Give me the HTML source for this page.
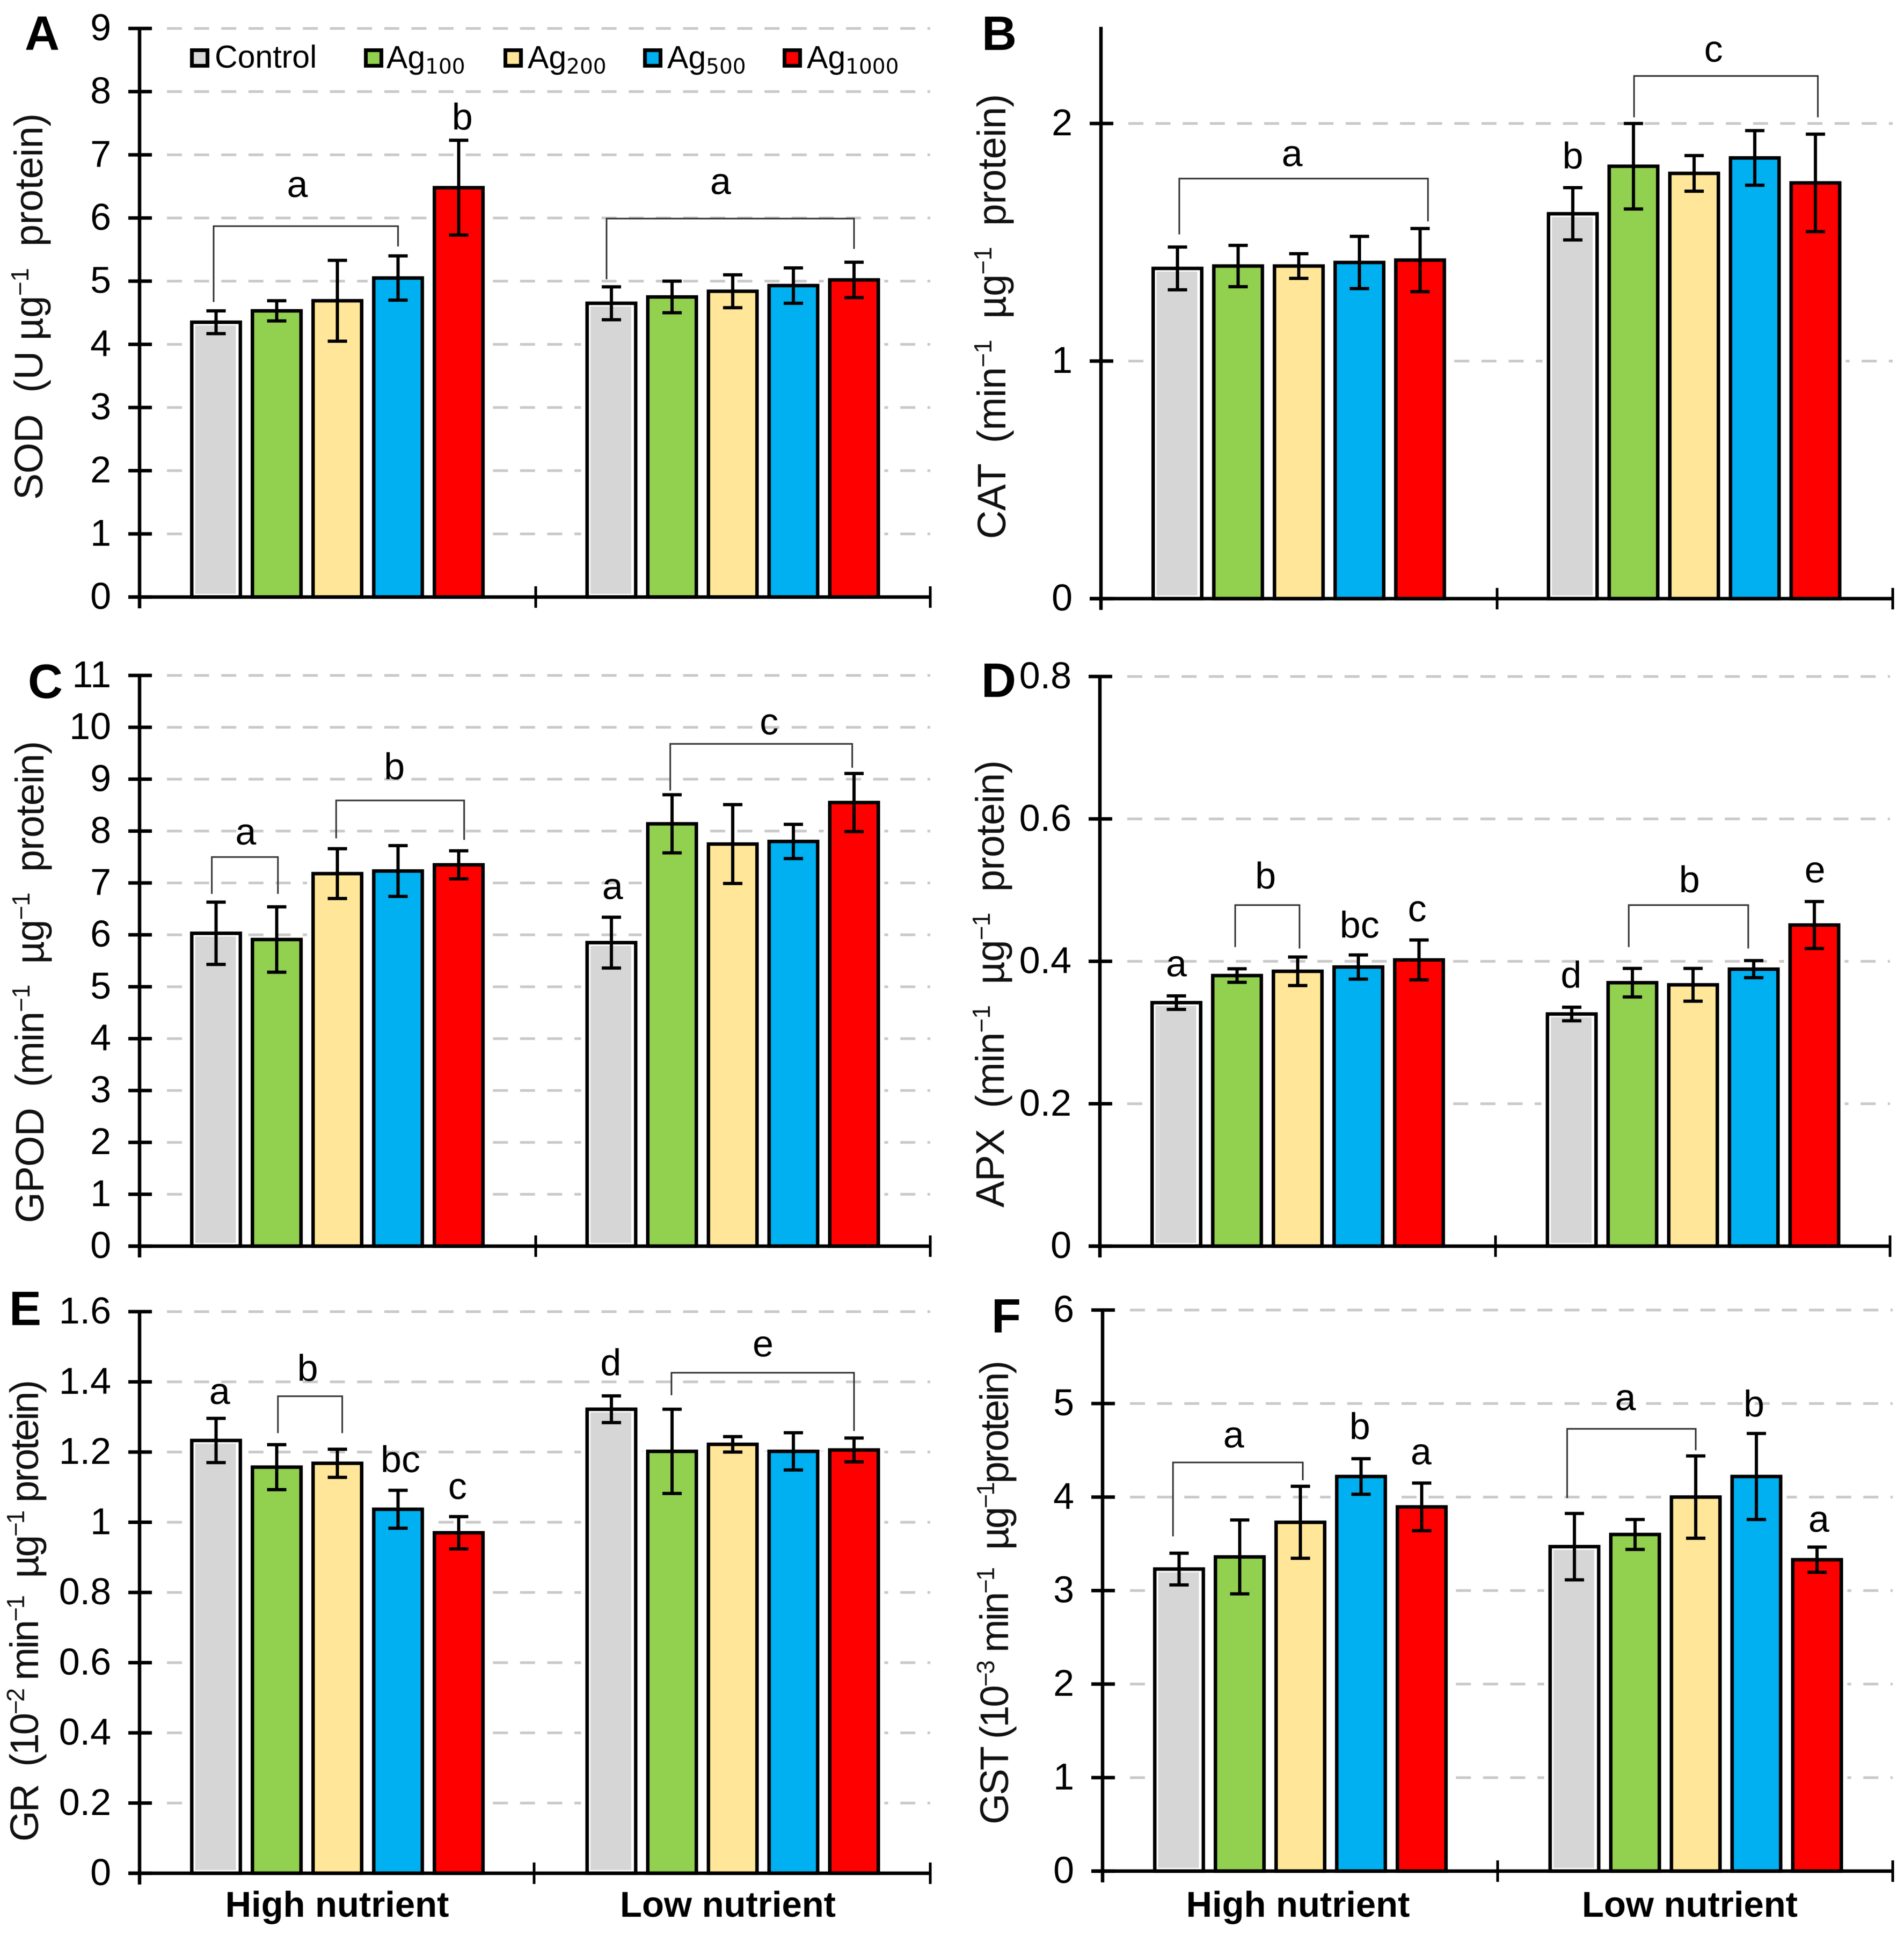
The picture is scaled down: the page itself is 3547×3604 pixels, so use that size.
<!DOCTYPE html>
<html lang="en">
<head>
<meta charset="utf-8">
<title>Antioxidant enzyme activities under silver treatments</title>
<style>
html,body{margin:0;padding:0;background:#fff;}
svg{display:block;font-family:"Liberation Sans",Arial,sans-serif;filter:blur(0.8px);}
text{white-space:pre;fill:#000;}
.sup{font-size:46px;}
.sub{font-size:39px;font-family:"DejaVu Sans",sans-serif;}
.ytitle{font-size:74px;fill:#111;}
.letter{font-size:90px;font-weight:700;}
.legend{font-size:59px;}
.group{font-size:67px;font-weight:700;text-anchor:middle;}
</style>
</head>
<body>
<svg id="figure" xmlns="http://www.w3.org/2000/svg" width="3547" height="3604" viewBox="0 0 3547 3604">
<rect x="0" y="0" width="3547" height="3604" fill="#fff"/>
<g id="plots"></g>

<text class="letter" x="46" y="93">A</text>
<text class="letter" x="1829" y="93">B</text>
<text class="letter" x="52" y="1300">C</text>
<text class="letter" x="1828" y="1298">D</text>
<text class="letter" x="17" y="2468">E</text>
<text class="letter" x="1847" y="2482">F</text>

<text class="ytitle" transform="translate(79 931) rotate(-90)" textLength="720">SOD  (U µg<tspan class="sup" dy="-26">−1</tspan><tspan dy="26">  protein)</tspan></text>
<text class="ytitle" transform="translate(1873 1004) rotate(-90)" textLength="829">CAT  (min<tspan class="sup" dy="-26">−1</tspan><tspan dy="26">  µg</tspan><tspan class="sup" dy="-26">−1</tspan><tspan dy="26">  protein)</tspan></text>
<text class="ytitle" transform="translate(81 2278) rotate(-90)" textLength="898">GPOD  (min<tspan class="sup" dy="-26">−1</tspan><tspan dy="26">  µg</tspan><tspan class="sup" dy="-26">−1</tspan><tspan dy="26">  protein)</tspan></text>
<text class="ytitle" transform="translate(1870 2249) rotate(-90)" textLength="833">APX  (min<tspan class="sup" dy="-26">−1</tspan><tspan dy="26">  µg</tspan><tspan class="sup" dy="-26">−1</tspan><tspan dy="26">  protein)</tspan></text>
<text class="ytitle" transform="translate(71 3430) rotate(-90)" textLength="860">GR  (10<tspan class="sup" dy="-26">−2</tspan><tspan dy="26"> min</tspan><tspan class="sup" dy="-26">−1</tspan><tspan dy="26">  µg</tspan><tspan class="sup" dy="-26">−1</tspan><tspan dy="26"> protein)</tspan></text>
<text class="ytitle" transform="translate(1878 3398) rotate(-90)" textLength="864">GST (10<tspan class="sup" dy="-26">−3</tspan><tspan dy="26"> min</tspan><tspan class="sup" dy="-26">−1</tspan><tspan dy="26">  µg</tspan><tspan class="sup" dy="-26">−1</tspan><tspan dy="26">protein)</tspan></text>

<g>
  <g>
    <rect x="357.5" y="93.5" width="29" height="29" fill="#d9d9d9" stroke="#000" stroke-width="7"/>
    <text class="legend" x="400" y="126">Control</text>
  </g>
  <g>
    <rect x="681.5" y="93.5" width="29" height="29" fill="#92d050" stroke="#000" stroke-width="7"/>
    <text class="legend" x="720" y="127">Ag<tspan class="sub" dy="10">100</tspan></text>
  </g>
  <g>
    <rect x="941.5" y="93.5" width="29" height="29" fill="#ffe699" stroke="#000" stroke-width="7"/>
    <text class="legend" x="983" y="127">Ag<tspan class="sub" dy="10">200</tspan></text>
  </g>
  <g>
    <rect x="1201.5" y="93.5" width="29" height="29" fill="#00b0f0" stroke="#000" stroke-width="7"/>
    <text class="legend" x="1243" y="127">Ag<tspan class="sub" dy="10">500</tspan></text>
  </g>
  <g>
    <rect x="1461.5" y="93.5" width="29" height="29" fill="#ff0000" stroke="#000" stroke-width="7"/>
    <text class="legend" x="1503" y="127">Ag<tspan class="sub" dy="10">1000</tspan></text>
  </g>
</g>

<text class="group" x="628" y="3570">High nutrient</text>
<text class="group" x="1356" y="3570">Low nutrient</text>
<text class="group" x="2418" y="3570">High nutrient</text>
<text class="group" x="3148" y="3570">Low nutrient</text>
</svg>

<script>
// ---- chart data ----
const categories = ["Control", "Ag100", "Ag200", "Ag500", "Ag1000"];
const barColors = ["#d6d6d6", "#92d050", "#ffe699", "#00b0f0", "#ff0000"];

const sodTicks = [0, 1, 2, 3, 4, 5, 6, 7, 8, 9];
const sodTickLabels = ["0", "1", "2", "3", "4", "5", "6", "7", "8", "9"];
const sodHigh = [4.35, 4.53, 4.69, 5.05, 6.48];
const sodHighErr = [0.18, 0.16, 0.64, 0.35, 0.75];
const sodLow = [4.65, 4.75, 4.84, 4.93, 5.02];
const sodLowErr = [0.26, 0.25, 0.26, 0.28, 0.28];

const catTicks = [0, 1, 2];
const catTickLabels = ["0", "1", "2"];
const catHigh = [1.39, 1.40, 1.40, 1.415, 1.425];
const catHighErr = [0.09, 0.087, 0.052, 0.11, 0.133];
const catLow = [1.62, 1.82, 1.79, 1.855, 1.75];
const catLowErr = [0.11, 0.18, 0.075, 0.115, 0.205];

const gpodTicks = [0, 1, 2, 3, 4, 5, 6, 7, 8, 9, 10, 11];
const gpodTickLabels = ["0", "1", "2", "3", "4", "5", "6", "7", "8", "9", "10", "11"];
const gpodHigh = [6.03, 5.91, 7.18, 7.23, 7.35];
const gpodHighErr = [0.60, 0.63, 0.48, 0.49, 0.27];
const gpodLow = [5.85, 8.14, 7.75, 7.80, 8.55];
const gpodLowErr = [0.49, 0.56, 0.76, 0.33, 0.56];

const apxTicks = [0, 0.2, 0.4, 0.6, 0.8];
const apxTickLabels = ["0", "0.2", "0.4", "0.6", "0.8"];
const apxHigh = [0.342, 0.380, 0.386, 0.392, 0.402];
const apxHighErr = [0.0095, 0.0095, 0.02, 0.017, 0.028];
const apxLow = [0.326, 0.370, 0.367, 0.389, 0.451];
const apxLowErr = [0.0095, 0.02, 0.023, 0.012, 0.033];

const grTicks = [0, 0.2, 0.4, 0.6, 0.8, 1, 1.2, 1.4, 1.6];
const grTickLabels = ["0", "0.2", "0.4", "0.6", "0.8", "1", "1.2", "1.4", "1.6"];
const grHigh = [1.233, 1.157, 1.168, 1.037, 0.970];
const grHighErr = [0.063, 0.064, 0.04, 0.054, 0.046];
const grLow = [1.322, 1.202, 1.222, 1.202, 1.206];
const grLowErr = [0.038, 0.12, 0.022, 0.053, 0.034];

const gstTicks = [0, 1, 2, 3, 4, 5, 6];
const gstTickLabels = ["0", "1", "2", "3", "4", "5", "6"];
const gstHigh = [3.23, 3.36, 3.73, 4.22, 3.895];
const gstHighErr = [0.17, 0.395, 0.385, 0.19, 0.255];
const gstLow = [3.47, 3.60, 4.00, 4.22, 3.33];
const gstLowErr = [0.355, 0.16, 0.44, 0.46, 0.135];

// ---- panel layout ----
const panelA = {key:'sod',  axisX:260,  midX:998,  endX:1733, top:53,   base:1112, yMax:9,   ticks:sodTicks,  labels:sodTickLabels,  high:sodHigh,  highErr:sodHighErr,  low:sodLow,  lowErr:sodLowErr};
const panelB = {key:'cat',  axisX:2051, midX:2789, endX:3526, top:53,   base:1115, yMax:2.4, ticks:catTicks,  labels:catTickLabels,  high:catHigh,  highErr:catHighErr,  low:catLow,  lowErr:catLowErr};
const panelC = {key:'gpod', axisX:260,  midX:998,  endX:1733, top:1258, base:2321, yMax:11,  ticks:gpodTicks, labels:gpodTickLabels, high:gpodHigh, highErr:gpodHighErr, low:gpodLow, lowErr:gpodLowErr};
const panelD = {key:'apx',  axisX:2049, midX:2786, endX:3521, top:1260, base:2321, yMax:0.8, ticks:apxTicks,  labels:apxTickLabels,  high:apxHigh,  highErr:apxHighErr,  low:apxLow,  lowErr:apxLowErr};
const panelE = {key:'gr',   axisX:260,  midX:995,  endX:1733, top:2443, base:3489, yMax:1.6, ticks:grTicks,   labels:grTickLabels,   high:grHigh,   highErr:grHighErr,   low:grLow,   lowErr:grLowErr};
const panelF = {key:'gst',  axisX:2054, midX:2790, endX:3526, top:2440, base:3485, yMax:6,   ticks:gstTicks,  labels:gstTickLabels,  high:gstHigh,  highErr:gstHighErr,  low:gstLow,  lowErr:gstLowErr};

const NS = 'http://www.w3.org/2000/svg';
const root = document.getElementById('plots');
const PERIOD = 113;
const BAR_W = 90.5;
const CAP = 18;

function mk(tag, attrs, parent) {
  const el = document.createElementNS(NS, tag);
  for (const k in attrs) el.setAttribute(k, attrs[k]);
  parent.appendChild(el);
  return el;
}
function yScale(p, v) { return p.base - (v / p.yMax) * (p.base - p.top); }
function xScale(p, g, slot) {
  const center = p.axisX + (g === 0 ? 368.5 : 1105);
  return center + (slot - 2) * PERIOD;
}

function drawPanel(p) {
  const g0 = mk('g', {}, root);
  
  

  // gridlines
  p.ticks.forEach(function (t) {
    if (t === 0) return;
    const y = yScale(p, t);
    const grid = mk('line', {x1:p.axisX + 51, x2:p.endX, y1:y, y2:y, stroke:'#c9c9c9', 'stroke-width':5, 'stroke-dasharray':'28 22.6'}, g0);
    
    
  });

  // bars, then error bars
  [[p.high, p.highErr], [p.low, p.lowErr]].forEach(function (series, g) {
    series[0].forEach(function (v, i) {
      const cx = xScale(p, g, i);
      const yTop = yScale(p, v);
      const halo = mk('rect', {x:cx - PERIOD / 2, y:yTop, width:PERIOD, height:p.base - yTop, fill:'#fff'}, g0);
      
      
    });
    series[0].forEach(function (v, i) {
      const cx = xScale(p, g, i);
      const yTop = yScale(p, v);
      const bar = mk('rect', {x:cx - BAR_W / 2, y:yTop, width:BAR_W, height:p.base - yTop, fill:i === 0 ? '#fff' : barColors[i], stroke:'#000', 'stroke-width':6.5}, g0);
      
      
      if (i === 0) {
        const inner = mk('rect', {x:cx - 39, y:yTop + 6, width:76, height:Math.max(0, p.base - yTop - 12), fill:barColors[0]}, g0);
        
        
      }
    });
    series[0].forEach(function (v, i) {
      const cx = xScale(p, g, i);
      const e = series[1][i];
      const yHi = yScale(p, v + e);
      const yLo = yScale(p, v - e);
      const err = mk('path', {d:'M' + (cx - CAP) + ' ' + yHi + 'H' + (cx + CAP) + 'M' + cx + ' ' + yHi + 'V' + yLo + 'M' + (cx - CAP) + ' ' + yLo + 'H' + (cx + CAP), fill:'none', stroke:'#000', 'stroke-width':6}, g0);
      
      
    });
  });

  // y axis
  const yAxis = mk('line', {x1:p.axisX, x2:p.axisX, y1:p.top - 3, y2:p.base + 21, stroke:'#000', 'stroke-width':6.5}, g0);
  
  

  p.ticks.forEach(function (t, i) {
    const y = yScale(p, t);
    const tick = mk('line', {x1:p.axisX - 21, x2:p.axisX + 23, y1:y, y2:y, stroke:'#000', 'stroke-width':6.5}, g0);
    
    
    const lab = mk('text', {x:p.axisX - 53, y:y + 22, 'text-anchor':'end', 'font-size':70}, g0);
    lab.textContent = p.labels[i];
    
    
  });

  // x axis
  const xAxis = mk('line', {x1:p.axisX - 21, x2:p.endX, y1:p.base, y2:p.base, stroke:'#000', 'stroke-width':6.5}, g0);
  
  
  [p.midX, p.endX].forEach(function (x) {
    const tick = mk('line', {x1:x, x2:x, y1:p.base - 20, y2:p.base + 20, stroke:'#000', 'stroke-width':5}, g0);
    
    
  });
}

// significance bracket: group, from/to slot, level value, left and right drop values
function bracket(p, g, s0, s1, level, dropL, dropR) {
  const x0 = xScale(p, g, s0);
  const x1 = xScale(p, g, s1);
  const el = mk('path', {d:'M' + x0 + ' ' + yScale(p, dropL) + 'V' + yScale(p, level) + 'H' + x1 + 'V' + yScale(p, dropR), fill:'none', stroke:'#333', 'stroke-width':3}, root);
  
  
}
// significance letter at a slot position and value height
function note(p, g, slot, value, str) {
  const el = mk('text', {x:xScale(p, g, slot), y:yScale(p, value), 'text-anchor':'middle', 'font-size':70}, root);
  el.textContent = str;
  
  
}

[panelA, panelB, panelC, panelD, panelE, panelF].forEach(drawPanel);

note(panelA, 0, 1.34, 6.33, 'a');
note(panelA, 0, 4.06, 7.40, 'b');
note(panelA, 1, 1.80, 6.38, 'a');
bracket(panelA, 0, -0.04, 3, 5.87, 4.67, 5.55);
bracket(panelA, 1, -0.08, 4, 5.99, 5.03, 5.51);

note(panelB, 0, 1.89, 1.82, 'a');
note(panelB, 1, 0, 1.81, 'b');
note(panelB, 1, 2.32, 2.26, 'c');
bracket(panelB, 0, 0.03, 4.13, 1.768, 1.533, 1.588);
bracket(panelB, 1, 1.01, 4.04, 2.20, 2.026, 2.026);

note(panelC, 0, 0.49, 7.74, 'a');
note(panelC, 0, 2.94, 9.0, 'b');
note(panelC, 1, 0.02, 6.69, 'a');
note(panelC, 1, 2.6, 9.86, 'c');
bracket(panelC, 0, -0.07, 1.02, 7.5, 6.79, 6.79);
bracket(panelC, 0, 1.98, 4.09, 8.59, 7.86, 7.83);
bracket(panelC, 1, 0.97, 3.97, 9.68, 8.78, 9.22);

note(panelD, 0, 0, 0.379, 'a');
note(panelD, 0, 1.47, 0.502, 'b');
note(panelD, 0, 3.02, 0.433, 'bc');
note(panelD, 0, 3.97, 0.456, 'c');
note(panelD, 1, -0.01, 0.363, 'd');
note(panelD, 1, 1.94, 0.497, 'b');
note(panelD, 1, 4.01, 0.511, 'e');
bracket(panelD, 0, 0.97, 2.03, 0.479, 0.42, 0.418);
bracket(panelD, 1, 0.94, 2.91, 0.479, 0.42, 0.418);

note(panelE, 0, 0.06, 1.337, 'a');
note(panelE, 0, 1.51, 1.403, 'b');
note(panelE, 0, 3.04, 1.143, 'bc');
note(panelE, 0, 3.98, 1.066, 'c');
note(panelE, 1, -0.01, 1.419, 'd');
note(panelE, 1, 2.5, 1.472, 'e');
bracket(panelE, 0, 1.02, 2.08, 1.359, 1.254, 1.254);
bracket(panelE, 1, 0.99, 4, 1.426, 1.362, 1.26);

note(panelF, 0, 0.9, 4.53, 'a');
note(panelF, 0, 2.98, 4.62, 'b');
note(panelF, 0, 3.99, 4.35, 'a');
note(panelF, 1, 0.84, 4.93, 'a');
note(panelF, 1, 2.96, 4.86, 'b');
note(panelF, 1, 4.03, 3.63, 'a');
bracket(panelF, 0, -0.1, 2.04, 4.37, 3.58, 4.18);
bracket(panelF, 1, -0.12, 2, 4.73, 3.99, 4.5);
</script>
</body>
</html>
